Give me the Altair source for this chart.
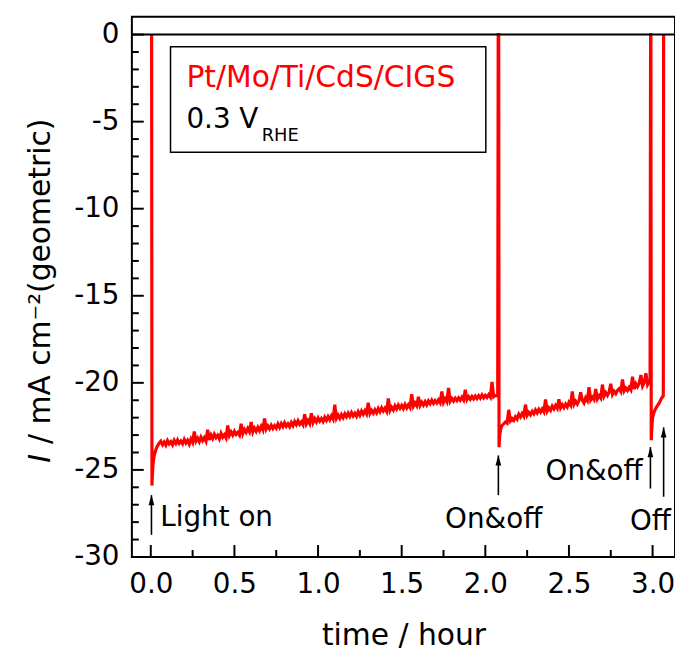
import altair as alt
import pandas as pd

FONT = "DejaVu Sans"
W, H = 548, 545
X_DOMAIN = [-0.113, 3.134]
Y_DOMAIN = [-30.0, 1.02]

# ---- photocurrent trace (time in hours, current in mA cm^-2) ----
light_on_t = [0.005, 0.007, 0.010, 0.014, 0.020, 0.028, 0.038, 0.048]
light_on_i = [0.0, -25.9, -25.2, -24.6, -24.2, -23.9, -23.65, -23.5]

# sampled every 0.01 h from 0.06 h
run1_i = [
    -23.35, -23.55, -23.40, -23.58, -23.32, -23.50, -23.38, -23.56, -23.30, -23.48,
    -23.28, -23.48, -23.35, -23.50, -23.25, -23.45, -23.30, -23.52, -23.22, -23.42,
    -22.80, -23.35, -23.18, -23.38, -23.12, -23.32, -23.15, -23.35, -22.70, -23.28,
    -23.00, -23.20, -22.95, -23.15, -23.02, -23.22, -22.90, -23.12, -22.98, -23.16,
    -22.45, -23.02, -22.82, -23.00, -22.78, -22.96, -22.85, -23.00, -22.35, -22.92,
    -22.68, -22.85, -22.62, -22.80, -22.25, -22.82, -22.60, -22.78, -22.55, -22.74,
    -22.50, -22.70, -22.05, -22.66, -22.48, -22.64, -22.44, -22.62, -22.46, -22.60,
    -22.36, -22.56, -22.34, -22.52, -22.30, -22.50, -22.35, -22.52, -22.28, -22.46,
    -22.22, -22.40, -22.18, -22.38, -22.24, -22.40, -21.80, -22.36, -22.16, -22.34,
    -21.75, -22.28, -22.06, -22.24, -22.02, -22.20, -22.05, -22.22, -21.98, -22.16,
    -21.94, -22.12, -21.90, -22.08, -21.25, -22.04, -21.86, -22.04, -21.82, -22.00,
    -21.78, -21.95, -21.74, -21.92, -21.70, -21.90, -21.75, -21.92, -21.66, -21.86,
    -21.62, -21.80, -21.60, -21.78, -21.15, -21.76, -21.58, -21.74, -21.54, -21.72,
    -21.48, -21.66, -21.44, -21.62, -21.46, -21.64, -20.90, -21.58, -21.40, -21.56,
    -21.32, -21.50, -21.28, -21.46, -21.30, -21.48, -21.24, -21.44, -21.26, -21.42,
    -20.65, -21.34, -21.16, -21.32, -20.80, -21.30, -21.12, -21.28, -21.08, -21.26,
    -21.04, -21.20, -21.00, -21.18, -21.02, -21.16, -20.98, -21.14, -20.50, -21.12,
    -20.92, -21.08, -20.30, -21.06, -20.90, -21.04, -20.88, -21.02, -20.86, -21.00,
    -20.82, -20.98, -20.40, -20.96, -20.80, -20.94, -20.78, -20.92, -20.76, -20.90,
    -20.74, -20.88, -20.70, -20.86, -20.72, -20.84, -20.68, -20.82, -19.95, -20.80,
    -20.72,
]
run1_t = [round(0.06 + 0.01 * k, 3) for k in range(len(run1_i))]

onoff1_t = [2.074, 2.077, 2.080, 2.082, 2.086, 2.092]
onoff1_i = [-20.75, 0.0, 0.0, -23.7, -23.0, -22.65]

# sampled every 0.01 h from 2.10 h
run2_i = [
    -22.45, -22.35, -22.25, -22.32, -21.55, -22.18, -22.05, -22.16, -21.95, -22.08,
    -21.80, -21.96, -21.76, -21.92, -21.25, -21.86, -21.70, -21.84, -21.64, -21.78,
    -21.56, -21.72, -21.52, -21.68, -21.50, -21.66, -20.95, -21.62, -21.44, -21.58,
    -21.34, -21.50, -21.30, -21.46, -20.95, -21.44, -21.26, -21.42, -21.22, -21.38,
    -21.12, -21.28, -20.50, -21.24, -21.06, -21.22, -21.02, -20.55, -21.00, -21.16,
    -20.86, -21.02, -20.25, -20.98, -20.82, -20.96, -20.35, -20.92, -20.74, -20.88,
    -20.10, -20.76, -20.56, -20.72, -20.52, -20.05, -20.66, -20.48, -20.62, -20.44,
    -20.34, -20.50, -19.80, -20.46, -20.30, -20.44, -20.26, -20.40, -19.65, -20.36,
    -20.06, -20.22, -20.02, -19.55, -20.18, -19.98, -19.45, -20.10, -19.92,
]
run2_t = [round(2.10 + 0.01 * k, 3) for k in range(len(run2_i))]

onoff2_t = [2.985, 2.988, 2.990, 2.992, 2.996, 3.000, 3.010, 3.020, 3.030, 3.040, 3.050, 3.060, 3.064, 3.066]
onoff2_i = [-19.85, 0.0, 0.0, -23.3, -22.5, -22.0, -21.65, -21.45, -21.3, -21.15, -20.95, -20.8, -20.75, 0.0]

times = light_on_t + run1_t + onoff1_t + run2_t + onoff2_t
currents = light_on_i + run1_i + onoff1_i + run2_i + onoff2_i
trace = pd.DataFrame({"t": times, "i": currents, "k": list(range(len(times)))})

# ---- axes ticks ----
x_major = [0.0, 0.5, 1.0, 1.5, 2.0, 2.5, 3.0]
x_minor = [0.25, 0.75, 1.25, 1.75, 2.25, 2.75]
y_major = [-30, -25, -20, -15, -10, -5, 0]
y_minor = [-29, -28, -27, -26, -24, -23, -22, -21, -19, -18, -17, -16,
           -14, -13, -12, -11, -9, -8, -7, -6, -4, -3, -2, -1]

# ---- annotations ----
arrow_x = [0.004, 2.078, 2.987, 3.066]
arrow_bottom = [-28.73, -26.45, -26.07, -26.54]
arrow_top = [-26.45, -24.17, -23.69, -22.56]

note_text = ["Light on", "On&off", "On&off", "Off"]
note_x = [0.057, 2.05, 2.941, 2.987]
note_y = [-28.25, -28.35, -25.6, -28.44]
note_align = ["left", "center", "right", "center"]

box_x = [0.118, 2.003]
box_y = [-0.705, -6.76]
label_main = "Pt/Mo/Ti/CdS/CIGS"
label_main_xy = [0.213, -3.02]
label_pot = "0.3 V"
label_pot_xy = [0.213, -5.35]
label_sub = "RHE"
label_sub_xy = [0.663, -6.11]

xs = alt.Scale(domain=X_DOMAIN, nice=False, zero=False)
ys = alt.Scale(domain=Y_DOMAIN, nice=False, zero=False)

x_axis = alt.Axis(
    values=x_major, format=".1f", ticks=False, domain=False, grid=False,
    labelFont=FONT, labelFontSize=28, labelColor="black", labelPadding=14,
    labelFlush=False, labelOverlap=False,
    title="time / hour", titleFont=FONT, titleFontSize=30, titleFontWeight="normal",
    titleColor="black", titleBaseline="alphabetic", titleY=88,
)
y_axis = alt.Axis(
    values=y_major, ticks=False, domain=False, grid=False,
    labelFont=FONT, labelFontSize=28, labelColor="black", labelPadding=13,
    labelFlush=False, labelOverlap=False,
    labelExpr="datum.value < 0 ? '-' + toString(abs(datum.value)) : toString(datum.value)",
    title="",
)


def X(field):
    return alt.X(field, scale=xs, axis=x_axis)


def Y(field):
    return alt.Y(field, scale=ys, axis=y_axis)


line = alt.Chart(trace).mark_line(color="#ff0000", strokeWidth=3.2, clip=True).encode(
    x=X("t:Q"), y=Y("i:Q"), order="k:Q",
)

box = alt.Chart(pd.DataFrame({"x1": [box_x[0]], "x2": [box_x[1]], "y1": [box_y[0]], "y2": [box_y[1]]})).mark_rect(
    fill="white", stroke="black", strokeWidth=1.5
).encode(x=X("x1:Q"), x2="x2", y=Y("y1:Q"), y2="y2")

zero = alt.Chart(pd.DataFrame({"v": [0.0]})).mark_rule(color="black", strokeWidth=2).encode(y=Y("v:Q"))

xt_major = alt.Chart(pd.DataFrame({"v": x_major})).mark_rule(color="black", strokeWidth=2).encode(
    x=X("v:Q"), y=alt.value(H), y2=alt.value(H - 12))
xt_minor = alt.Chart(pd.DataFrame({"v": x_minor})).mark_rule(color="black", strokeWidth=2).encode(
    x=X("v:Q"), y=alt.value(H), y2=alt.value(H - 7))
yt_major = alt.Chart(pd.DataFrame({"v": y_major})).mark_rule(color="black", strokeWidth=2).encode(
    y=Y("v:Q"), x=alt.value(0), x2=alt.value(12))
yt_minor = alt.Chart(pd.DataFrame({"v": y_minor})).mark_rule(color="black", strokeWidth=2).encode(
    y=Y("v:Q"), x=alt.value(0), x2=alt.value(7))

arrows_df = pd.DataFrame({"x": arrow_x, "y1": arrow_bottom, "y2": arrow_top})
arrows = alt.Chart(arrows_df).mark_rule(color="black", strokeWidth=1.6).encode(
    x=X("x:Q"), y=Y("y1:Q"), y2="y2")
heads = alt.Chart(arrows_df).mark_point(
    shape="M0,-1L0.55,1L-0.55,1Z", filled=True, size=110, color="black", opacity=1, yOffset=5
).encode(x=X("x:Q"), y=Y("y2:Q"))

notes = []
for txt, nx, ny, al in zip(note_text, note_x, note_y, note_align):
    notes.append(
        alt.Chart(pd.DataFrame({"x": [nx], "y": [ny], "s": [txt]})).mark_text(
            font=FONT, fontSize=28, color="black", align=al, baseline="alphabetic"
        ).encode(x=X("x:Q"), y=Y("y:Q"), text="s:N")
    )

lab_main = alt.Chart(pd.DataFrame({"x": [label_main_xy[0]], "y": [label_main_xy[1]], "s": [label_main]})).mark_text(
    font=FONT, fontSize=30, color="#ff0000", align="left", baseline="alphabetic"
).encode(x=X("x:Q"), y=Y("y:Q"), text="s:N")
lab_pot = alt.Chart(pd.DataFrame({"x": [label_pot_xy[0]], "y": [label_pot_xy[1]], "s": [label_pot]})).mark_text(
    font=FONT, fontSize=28, color="black", align="left", baseline="alphabetic"
).encode(x=X("x:Q"), y=Y("y:Q"), text="s:N")
lab_sub = alt.Chart(pd.DataFrame({"x": [label_sub_xy[0]], "y": [label_sub_xy[1]], "s": [label_sub]})).mark_text(
    font=FONT, fontSize=18, color="black", align="left", baseline="alphabetic"
).encode(x=X("x:Q"), y=Y("y:Q"), text="s:N")

# rotated y-axis title: italic "I" + rest
ytitle_i = alt.Chart(pd.DataFrame({"s": ["I"]})).mark_text(
    font=FONT, fontSize=30, fontStyle="italic", color="black", align="left", baseline="alphabetic", angle=270
).encode(text="s:N", x=alt.value(-83), y=alt.value(450))
ytitle_rest = alt.Chart(pd.DataFrame({"s": ["/ mA cm\u207b\u00b2(geometric)"]})).mark_text(
    font=FONT, fontSize=30, color="black", align="left", baseline="alphabetic", angle=270
).encode(text="s:N", x=alt.value(-83), y=alt.value(431))

chart = alt.layer(
    box, line, zero, xt_major, xt_minor, yt_major, yt_minor, arrows, heads,
    *notes, lab_main, lab_pot, lab_sub, ytitle_i, ytitle_rest
).properties(
    width=W, height=H,
    padding={"left": 125, "top": 6, "right": 0, "bottom": 94},
    autosize=alt.AutoSizeParams(type="none"),
    background="white",
).configure_view(stroke="black", strokeWidth=2)

chart.save("out.html", embed_options={"renderer": "svg", "actions": False})
